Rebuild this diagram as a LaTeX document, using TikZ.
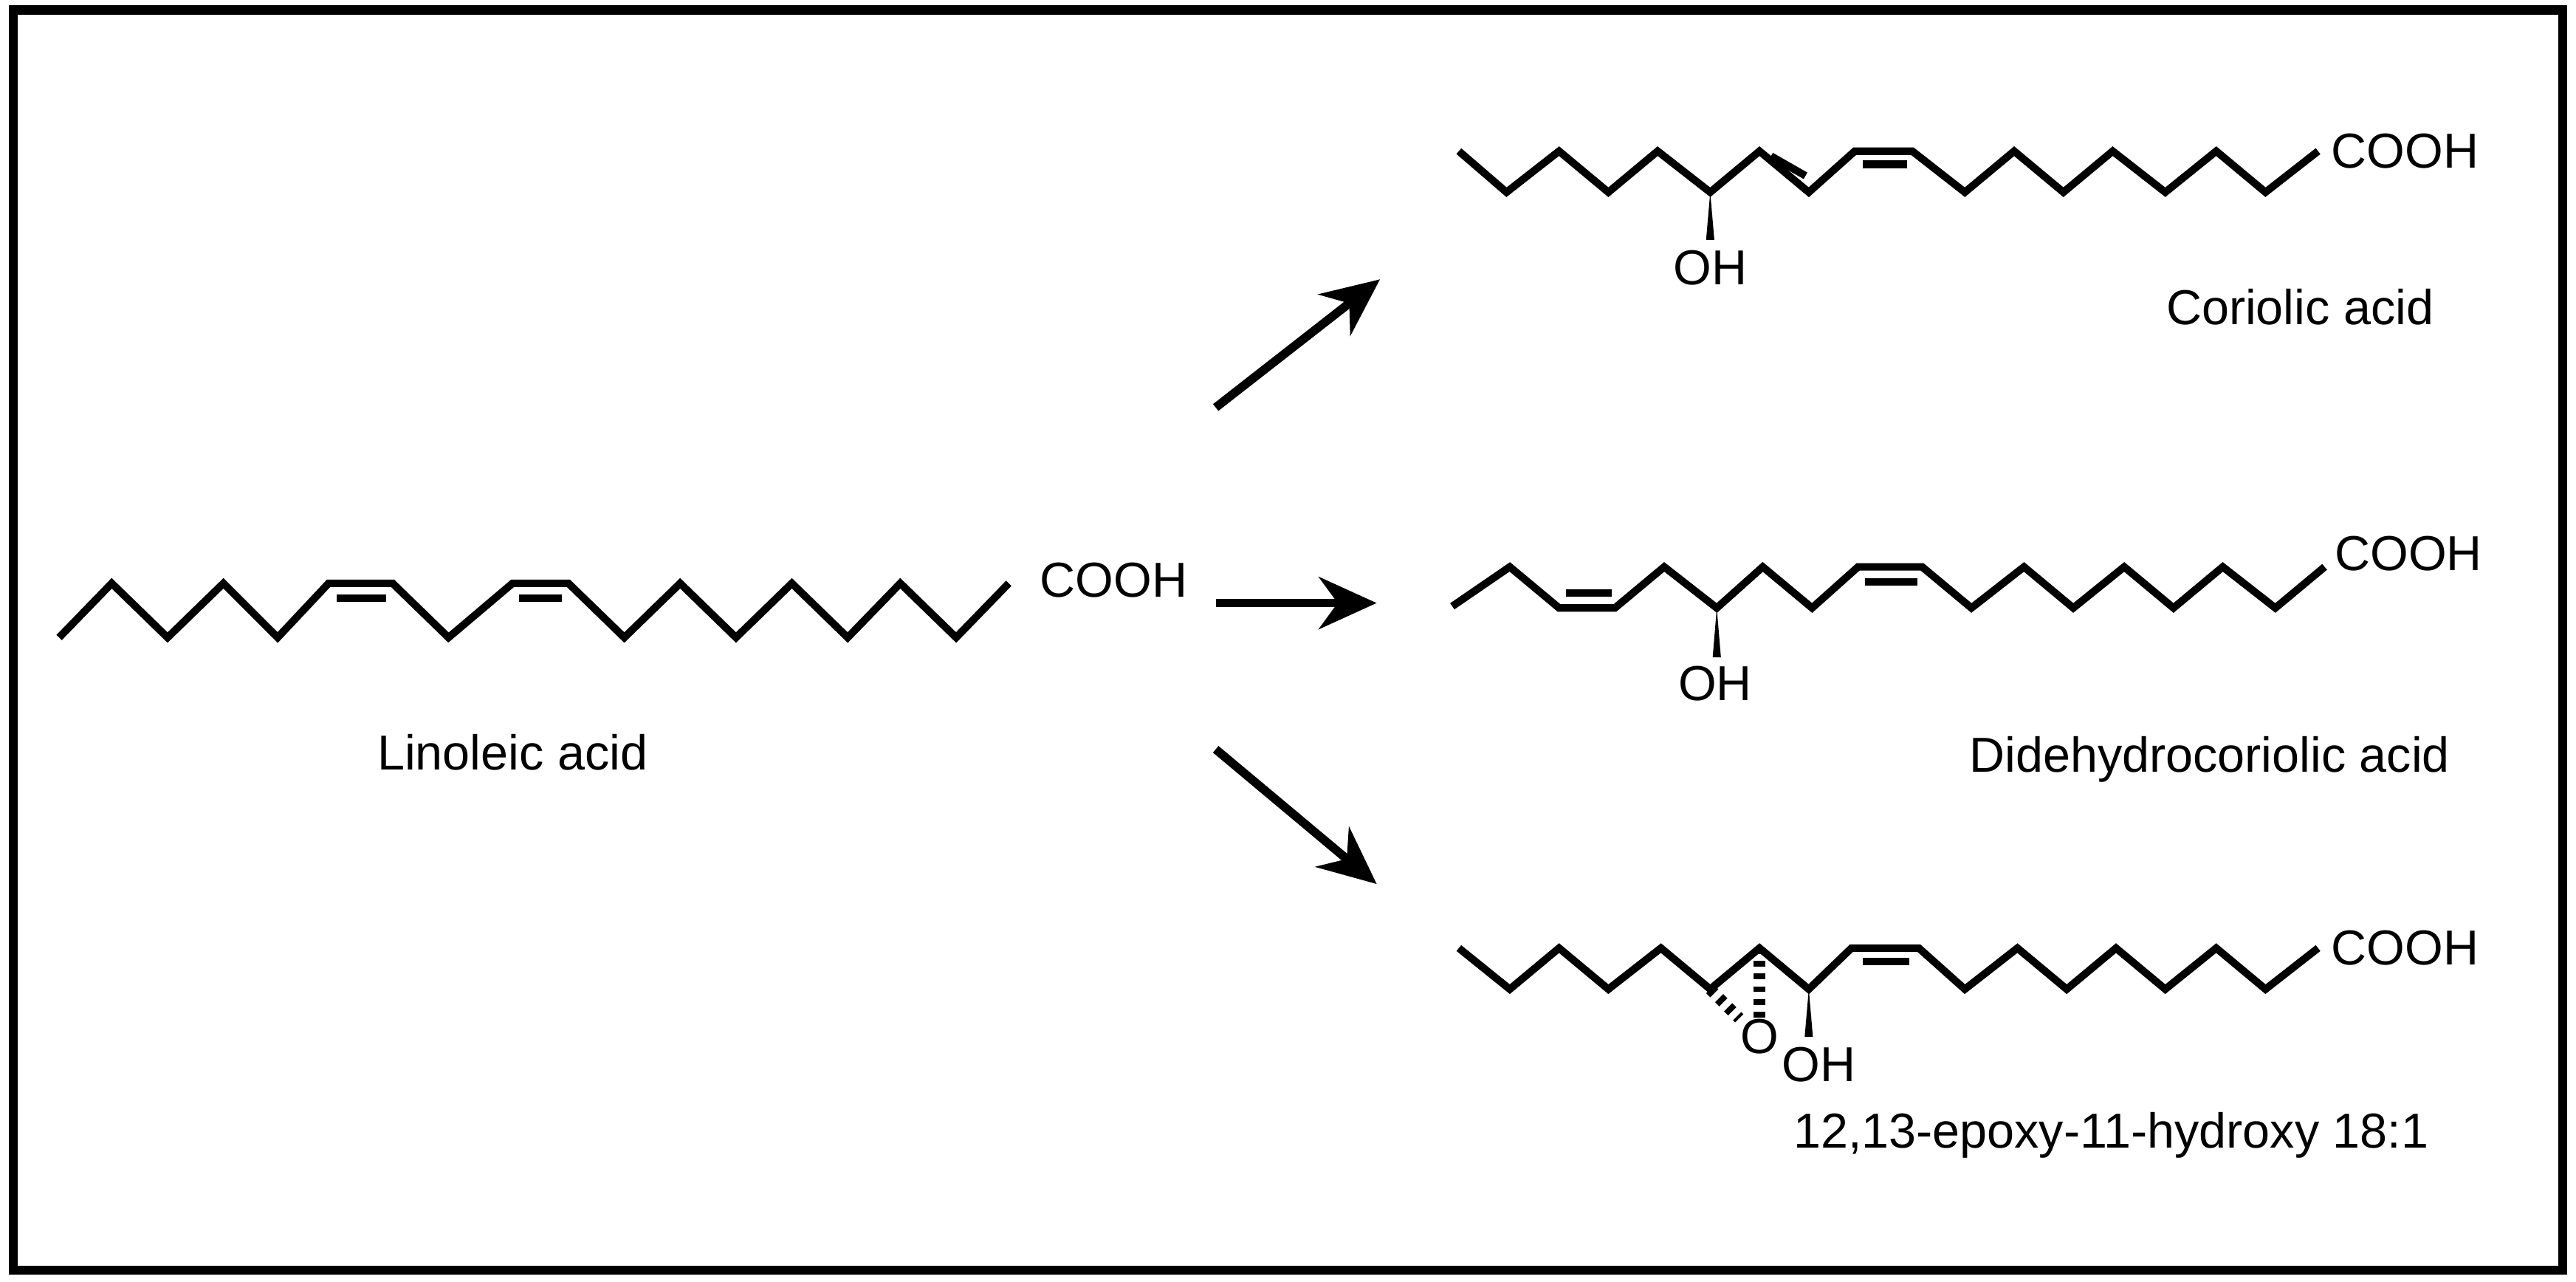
\documentclass[tikz,border=0pt]{standalone}
\usepackage{fontspec}
\setmainfont{Liberation Sans}
\usetikzlibrary{arrows.meta}

\begin{document}
\begin{tikzpicture}[x=0.01cm,y=-0.01cm,
  bond/.style={line width=1.3pt, line join=miter},
  lbl/.style={font=\fontsize{8.5}{10}\selectfont, inner sep=0pt},
  react/.style={line width=1.5pt, -{Stealth[length=10pt,width=9pt]}}]
  \useasboundingbox (0,0) rectangle (1568,780);
  \draw[line width=1.6pt] (8,6) rectangle (1560,773);

  % linoleic acid
  \draw[bond] (36,388) -- (68,355) -- (102,388) -- (136,355) -- (169,388) -- (200,355)
    -- (239,355) -- (273,388) -- (312,355) -- (346,355) -- (380,388) -- (414,355)
    -- (448,388) -- (482,355) -- (516,388) -- (548,355) -- (582,388) -- (614,355);
  \draw[bond] (205,364) -- (235,364);
  \draw[bond] (316,364) -- (342,364);
  \node[lbl] (cooh0) at (678,353) {COOH};
  \node[lbl] (lin) at (312,458) {Linoleic acid};

  % reactions
  \coordinate (a1) at (740,248); \coordinate (b1) at (840,170);
  \coordinate (a2) at (740,367); \coordinate (b2) at (838,367);
  \coordinate (a3) at (740,456); \coordinate (b3) at (838,538);
  \draw[react] (a1) -- (b1);
  \draw[react] (a2) -- (b2);
  \draw[react] (a3) -- (b3);

  % coriolic acid
  \draw[bond] (888,92) -- (917,117) -- (949,92) -- (979,117) -- (1009,92) -- (1041,117)
    -- (1071,92) -- (1101,117) -- (1129,92) -- (1164,92) -- (1196,117) -- (1226,92)
    -- (1256,117) -- (1286,92) -- (1318,117) -- (1349,92) -- (1379,117) -- (1411,92);
  \draw[bond] (1078,95) -- (1099,107);
  \draw[bond] (1134,100) -- (1161,100);
  \fill (1041,117) -- (1043.5,146) -- (1038.5,146) -- cycle;
  \node[lbl] (oh1) at (1041,163) {OH};
  \node[lbl] (cooh1) at (1464,92) {COOH};
  \node[lbl] (cor) at (1400,187) {Coriolic acid};

  % didehydrocoriolic acid
  \draw[bond] (884,369) -- (919,345) -- (949,370) -- (983,370) -- (1013,345) -- (1045,370)
    -- (1073,345) -- (1103,370) -- (1131,345) -- (1170,345) -- (1200,370) -- (1232,345)
    -- (1262,370) -- (1293,345) -- (1323,370) -- (1353,345) -- (1385,370) -- (1415,345);
  \draw[bond] (953,361) -- (981,361);
  \draw[bond] (1135,354) -- (1167,354);
  \fill (1045,370) -- (1047.5,400) -- (1042.5,400) -- cycle;
  \node[lbl] (oh2) at (1044,416) {OH};
  \node[lbl] (cooh2) at (1466,337) {COOH};
  \node[lbl] (ddc) at (1345,462) {Didehydrocoriolic acid};

  % 12,13-epoxy-11-hydroxy 18:1
  \draw[bond] (888,577) -- (919,602) -- (949,577) -- (979,602) -- (1011,577) -- (1041,602)
    -- (1071,577) -- (1101,602) -- (1127,577) -- (1168,577) -- (1196,602) -- (1228,577)
    -- (1258,602) -- (1288,577) -- (1318,602) -- (1349,577) -- (1379,602) -- (1411,577);
  \draw[bond] (1134,585) -- (1162,585);
  \node[lbl] (ox) at (1071,631) {O};
  \draw[line width=2pt, dash pattern=on 1pt off 1.2pt] (1041,602) -- (ox.north west);
  \draw[line width=2pt, dash pattern=on 1pt off 1.2pt] (1071,577) -- (ox.north);
  \fill (1101,602) -- (1103.5,631) -- (1098.5,631) -- cycle;
  \node[lbl] (oh3) at (1107,648) {OH};
  \node[lbl] (cooh3) at (1464,577) {COOH};
  \node[lbl] (epo) at (1285,691) {12,13-epoxy-11-hydroxy 18:1};
\end{tikzpicture}
\end{document}
